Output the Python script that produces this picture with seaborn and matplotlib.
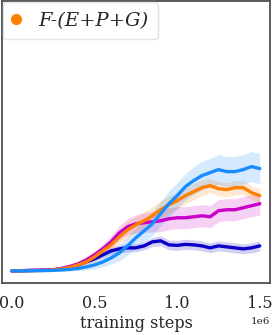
import numpy as np
import pandas as pd
import matplotlib
matplotlib.use("Agg")
import matplotlib.pyplot as plt
import seaborn as sns

steps = [0.0, 0.05, 0.1, 0.15, 0.2, 0.25, 0.3, 0.35, 0.4, 0.45, 0.5, 0.55, 0.6, 0.65,
         0.7, 0.75, 0.8, 0.85, 0.9, 0.95, 1.0, 1.05, 1.1, 1.15, 1.2, 1.25, 1.3, 1.35,
         1.4, 1.45, 1.5]
steps = [s * 1e6 for s in steps]

blue = [0, 0.1, 0.2, 0.3, 0.4, 0.6, 1.0, 1.5, 2.5, 4, 6, 9, 13, 18, 25, 33, 40, 47,
        57, 67, 75, 84, 90, 95, 98, 101, 99, 99, 101, 104, 102]
orange = [0, 0.2, 0.3, 0.4, 0.6, 1.0, 2, 3.5, 6, 9, 14, 20, 26, 34, 41, 46, 50,
          55, 61, 66, 70, 75, 79, 83, 85, 82, 81, 83, 83, 78, 75]
magenta = [0, 0.3, 0.5, 0.6, 0.8, 1.2, 2.5, 4.5, 7, 11, 16, 22, 29, 38, 44, 47, 48, 49, 50,
           52, 53, 53, 54, 55, 54, 60, 61, 61, 63, 65, 67]
darkblue = [0, 0.2, 0.4, 0.6, 0.8, 1.2, 2, 4, 6, 9, 12, 16, 20, 22, 23,
            23, 25, 29, 30, 26, 25.5, 26.5, 26, 25, 23, 25, 24, 23, 22, 23, 25]

blue_err = [0.3, 0.3, 0.3, 0.4, 0.5, 0.6, 0.8, 1.2, 2, 3, 4, 5, 6, 8, 9, 10, 11, 12, 12, 13,
            13, 13, 14, 14, 14, 15, 15, 15, 15, 15, 15]
orange_err = [0.3, 0.3, 0.3, 0.4, 0.5, 0.6, 0.8, 1.2, 2, 3, 4, 5, 6, 7, 8, 8, 9, 9, 9, 9,
              8, 8, 8, 8, 7, 7, 7, 7, 7, 7, 7]
magenta_err = [0.3, 0.3, 0.3, 0.4, 0.5, 0.6, 0.8, 1.2, 2, 3, 4, 5, 6, 7, 8, 9, 10, 10, 11,
               11, 11, 11, 11, 11, 11, 11, 11, 11, 11, 11, 11]
darkblue_err = [0.3, 0.3, 0.3, 0.4, 0.5, 0.6, 0.8, 1, 1.5, 2, 2.5, 3, 3.5, 4, 4, 4, 4, 4.5,
                5, 5, 5, 5, 5, 5, 5, 5, 5, 5, 5, 5, 5]

legend_label = "F-(E+P+G)"

series = [
    ("darkblue", darkblue, darkblue_err, "#0a00c8"),
    ("magenta", magenta, magenta_err, "#c800c8"),
    ("orange", orange, orange_err, "#ff7f00"),
    ("blue", blue, blue_err, "#1a8cff"),
]

sns.set_theme(style="white")
plt.rcParams['font.family'] = ['DejaVu Serif']

fig = plt.figure(figsize=(2.72, 3.35), dpi=100)
ax = fig.add_axes([2 / 272, (335 - 283) / 335, 268 / 272, 282 / 335])

for name, vals, err, col in series:
    v = np.array(vals)
    e = np.array(err)
    ax.fill_between(steps, v - e, v + e, color=col, alpha=0.18, lw=0)
    df = pd.DataFrame({"steps": steps, "val": vals})
    sns.lineplot(data=df, x="steps", y="val", ax=ax, color=col, lw=2.4)

ax.set_xlim(-0.06e6, 1.562e6)
ax.set_ylim(-12, 269)
ax.set_xticks([0, 0.5e6, 1.0e6, 1.5e6])
ax.set_yticks([])
ax.set_ylabel("")
ax.set_xlabel("training steps", fontsize=11.5, labelpad=2)
ax.tick_params(axis='x', labelsize=11.5, length=0, pad=9)
ax.xaxis.get_offset_text().set_fontsize(7.5)
for sp in ax.spines.values():
    sp.set_color("#4d4d4d")
    sp.set_linewidth(1.3)

h = plt.Line2D([], [], marker='o', color='#ff7f00', lw=0, markersize=7)
leg = ax.legend([h], [legend_label], loc='upper left', frameon=True,
                prop={'style': 'italic', 'size': 14}, handlelength=0.3, handletextpad=1.0,
                borderaxespad=0.05, borderpad=0.5)
leg.get_frame().set_edgecolor('#dddddd')

fig.savefig("out.png", dpi=100)
